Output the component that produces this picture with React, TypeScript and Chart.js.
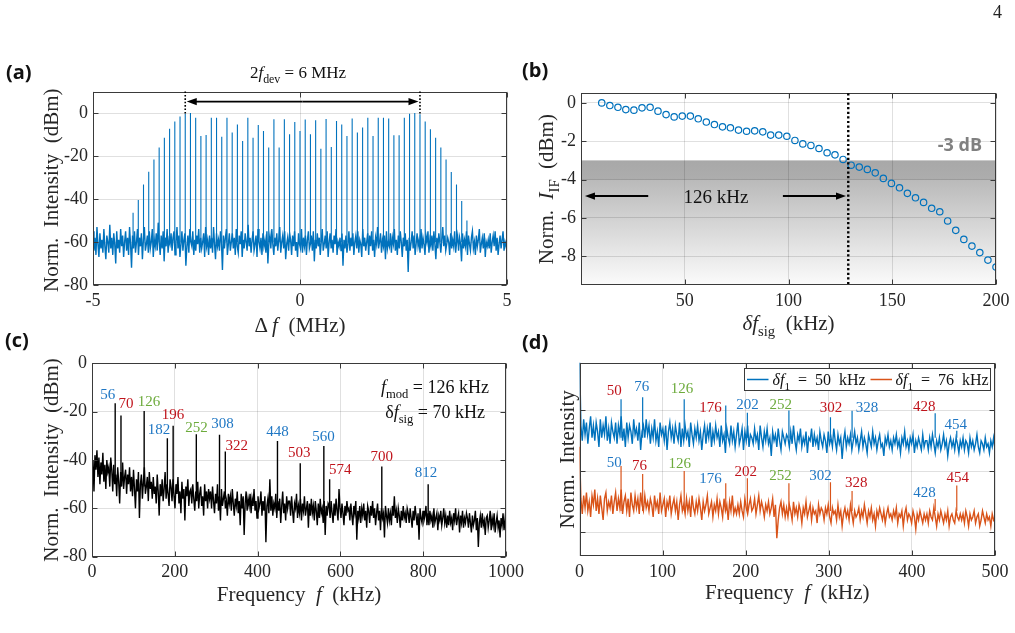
import React, { useEffect, useRef } from 'react';
import { Chart, registerables } from 'chart.js';

Chart.register(...registerables);

const SERIF = '"Liberation Serif", "Times New Roman", serif';
const SANS = '"Open Sans", "Noto Sans", "DejaVu Sans", sans-serif';
const BLUE = '#0072BD';
const ORANGE = '#D95319';
const LBL_BLUE = '#1f77c4';
const LBL_RED = '#c0141c';
const LBL_GREEN = '#6dab3c';
const AXIS = '#3a3a3a';
const GRID = 'rgba(0,0,0,0.12)';
const TICK_TEXT = '#262626';
const NOISE_WIDTH = 1.4;

// ---------------- (a) comb spectrum ----------------
const A_F_RANGE_MHZ = [-5, 5];
const A_X_TICKS = [-5, 0, 5];
const A_Y_TICKS = [-80, -60, -40, -20, 0];
const A_COMB_MHZ = [-4.032, -3.906, -3.78, -3.654, -3.528, -3.402, -3.276, -3.15, -3.024, -2.898, -2.772, -2.646, -2.52, -2.394, -2.268, -2.142, -2.016, -1.89, -1.764, -1.638, -1.512, -1.386, -1.26, -1.134, -1.008, -0.882, -0.756, -0.63, -0.504, -0.378, -0.252, -0.126, 0, 0.126, 0.252, 0.378, 0.504, 0.63, 0.756, 0.882, 1.008, 1.134, 1.26, 1.386, 1.512, 1.638, 1.764, 1.89, 2.016, 2.142, 2.268, 2.394, 2.52, 2.646, 2.772, 2.898, 3.024, 3.15, 3.276, 3.402, 3.528, 3.654, 3.78, 3.906, 4.032];
const A_COMB_DBM = [-46.4, -40.5, -33.2, -27.3, -21.6, -16.1, -11.5, -7.3, -4.0, -1.6, -0.3, 0, -2.2, -10.7, -10.2, -2.2, -2.2, -11, -2.2, -9.1, -5.3, -13, -2.2, -11.5, -5.6, -8.4, -16.1, -2.9, -16.1, -2.9, -9.9, -4.2, -8.4, -3, -9.9, -3.4, -16.6, -2.8, -15.8, -3.7, -5.3, -10.7, -2.5, -9.1, -6.8, -2.2, -10.7, -2.2, -2.2, -2.5, -10.4, -10.4, -2.2, -0.3, 0, -0.6, -4, -7.6, -11.5, -16.1, -21.6, -27.4, -33.2, -40.9, -50];
const A_COMB_FLOOR_DBM = -60;
const A_SPAN_EDGES_MHZ = [-2.772, 2.898];
const A_NOISE_DBM = [
  -55, -64, -58, -66, -53, -61, -67, -56, -63, -59, -65, -54, -62, -68, -57, -60, -65, -52, -63, -58,
  -66, -56, -61, -70, -55, -63, -59, -65, -54, -62, -57, -67, -60, -55, -64, -58, -66, -53, -61, -72,
  -57, -63, -55, -65, -60, -54, -66, -58, -62, -56, -68, -59, -53, -64, -61, -57, -65, -55, -63, -60,
  -54, -67, -59, -62, -56, -64, -51, -60, -66, -57, -63, -55, -69, -58, -62, -54, -65, -59, -61, -56,
  -64, -58, -55, -66, -60, -53, -63, -57, -67, -61, -55, -64, -59, -56, -71, -62, -57, -65, -54, -60,
  -62, -55, -66, -59, -64, -57, -61, -54, -65, -58, -63, -60, -56, -67, -53, -62, -59, -66, -57, -63,
  -58, -65, -53, -61, -68, -56, -62, -59, -64, -55, -60, -73, -57, -63, -58, -54, -66, -61, -56, -64,
  -60, -56, -63, -58, -66, -54, -62, -65, -57, -61, -55, -67, -59, -63, -56, -60, -64, -52, -62, -58,
  -65, -59, -55, -64, -61, -57, -67, -54, -60, -63, -58, -66, -56, -62, -59, -65, -55, -70, -60, -57,
  -63, -54, -61, -66, -58, -62, -56, -64, -59, -53, -65, -60, -57, -63, -55, -68, -61, -58, -64, -56,
  -59, -66, -57, -62, -55, -64, -60, -67, -56, -61, -63, -54, -65, -58, -62, -57, -66, -59, -55, -63,
  -61, -57, -64, -55, -69, -59, -63, -56, -62, -58, -66, -60, -54, -64, -61, -57, -63, -55, -67, -60,
  -56, -63, -59, -65, -57, -61, -54, -66, -60, -62, -58, -64, -56, -71, -59, -63, -57, -65, -61, -55,
  -64, -58, -62, -56, -66, -60, -57, -63, -55, -65, -59, -61, -67, -54, -62, -58, -64, -60, -56, -66,
  -57, -62, -55, -64, -59, -67, -58, -61, -53, -63, -60, -56, -65, -59, -62, -57, -68, -55, -63, -60,
  -62, -56, -65, -58, -61, -54, -64, -59, -66, -57, -63, -55, -60, -67, -58, -62, -56, -64, -59, -74,
  -58, -64, -60, -55, -63, -57, -66, -61, -56, -62, -59, -65, -54, -63, -58, -61, -66, -57, -60, -55,
  -65, -59, -62, -57, -64, -55, -61, -68, -58, -63, -56, -60, -65, -59, -53, -62, -57, -64, -61, -58,
  -60, -66, -56, -63, -59, -62, -55, -65, -60, -57, -64, -58, -61, -69, -56, -63, -59, -62, -55, -66,
  -57, -61, -64, -58, -55, -63, -60, -66, -57, -62, -59, -54, -65, -61, -58, -63, -56, -67, -60, -62,
  -59, -63, -56, -65, -60, -57, -62, -55, -64, -58, -66, -61, -57, -63, -59, -55, -64, -60, -62, -58,
];

// ---------------- (b) IF response ----------------
const B_X_TICKS = [50, 100, 150, 200];
const B_Y_TICKS = [0, -2, -4, -6, -8];
const B_DFSIG_KHZ = [10.0, 13.9, 17.8, 21.6, 25.5, 29.4, 33.3, 37.1, 41.0, 44.9, 48.8, 52.7, 56.5, 60.4, 64.3, 68.2, 72.0, 75.9, 79.8, 83.7, 87.6, 91.4, 95.3, 99.2, 103.1, 106.9, 110.8, 114.7, 118.6, 122.4, 126.3, 130.2, 134.1, 138.0, 141.8, 145.7, 149.6, 153.5, 157.3, 161.2, 165.1, 169.0, 172.9, 176.7, 180.6, 184.5, 188.4, 192.2, 196.1, 200.0];
const B_IIF_DB = [0, -0.14, -0.23, -0.35, -0.38, -0.26, -0.23, -0.43, -0.61, -0.73, -0.69, -0.69, -0.83, -1.0, -1.13, -1.25, -1.30, -1.42, -1.48, -1.46, -1.51, -1.68, -1.68, -1.74, -1.96, -2.14, -2.22, -2.38, -2.60, -2.71, -2.95, -3.25, -3.35, -3.47, -3.65, -3.94, -4.2, -4.43, -4.72, -4.95, -5.19, -5.5, -5.68, -6.16, -6.65, -7.12, -7.47, -7.81, -8.2, -8.56];
const B_THRESHOLD_DB = -3;
const B_CUTOFF_KHZ = 128.8;
const B_ARROW_DB = -4.86;
const B_ARROW_LEFT_KHZ = [32.4, 1.9];
const B_ARROW_RIGHT_KHZ = [97.3, 127.7];

// ---------------- (c) single-tone IF spectrum ----------------
const C_X_TICKS = [0, 200, 400, 600, 800, 1000];
const C_Y_TICKS = [-80, -60, -40, -20, 0];
const C_NOISE_DBM = [
  -48, -40, -53, -38, -44, -36, -47, -39, -50, -41, -46, -37, -49, -42, -52, -40, -45, -43, -51, -39,
  -44, -53, -42, -50, -46, -55, -43, -49, -58, -45, -51, -41, -52, -47, -44, -54, -46, -50, -43, -53,
  -47, -55, -44, -52, -60, -48, -53, -45, -64, -50, -46, -56, -49, -43, -54, -51, -47, -57, -45, -52,
  -49, -56, -47, -54, -51, -58, -46, -53, -63, -50, -55, -48, -57, -52, -45, -56, -50, -54, -59, -48,
  -51, -57, -48, -55, -60, -50, -54, -47, -58, -53, -62, -49, -56, -52, -65, -51, -55, -48, -59, -53,
  -52, -58, -50, -56, -61, -53, -57, -49, -60, -54, -51, -59, -55, -63, -50, -57, -53, -60, -52, -56,
  -53, -60, -51, -57, -62, -54, -58, -50, -61, -55, -65, -52, -59, -56, -53, -60, -57, -63, -54, -58,
  -55, -61, -52, -58, -63, -56, -59, -53, -62, -57, -67, -54, -60, -55, -71, -58, -53, -61, -56, -59,
  -54, -62, -56, -59, -52, -61, -57, -64, -55, -60, -58, -53, -63, -57, -61, -55, -74, -59, -56, -62,
  -48, -61, -55, -63, -58, -60, -54, -64, -57, -61, -56, -66, -59, -53, -62, -58, -65, -55, -60, -57,
  -57, -63, -55, -61, -66, -58, -60, -54, -64, -59, -62, -56, -65, -58, -61, -55, -63, -60, -57, -68,
  -58, -63, -56, -62, -59, -65, -57, -61, -67, -58, -64, -56, -62, -60, -66, -57, -71, -59, -63, -58,
  -59, -64, -57, -62, -66, -58, -63, -56, -61, -65, -52, -60, -64, -58, -62, -67, -59, -63, -57, -61,
  -60, -65, -58, -63, -67, -59, -62, -57, -73, -61, -64, -59, -66, -60, -63, -58, -65, -61, -68, -59,
  -61, -66, -59, -63, -57, -64, -60, -67, -62, -58, -65, -61, -69, -60, -64, -62, -72, -59, -63, -66,
  -60, -65, -62, -67, -59, -63, -55, -64, -61, -66, -60, -63, -68, -61, -65, -59, -64, -62, -66, -60,
  -62, -66, -60, -64, -68, -61, -65, -59, -63, -67, -62, -73, -60, -64, -66, -61, -65, -63, -59, -67,
  -62, -67, -61, -65, -63, -68, -60, -66, -64, -62, -69, -63, -65, -61, -67, -64, -60, -66, -63, -68,
  -63, -67, -61, -66, -64, -69, -62, -65, -60, -67, -64, -62, -70, -63, -66, -61, -68, -64, -66, -62,
  -64, -68, -62, -66, -70, -63, -67, -65, -61, -69, -64, -76, -66, -63, -68, -62, -67, -65, -71, -64,
  -63, -68, -65, -61, -69, -64, -67, -62, -70, -66, -63, -68, -65, -72, -64, -67, -62, -69, -65, -60,
];
const C_PEAK_KHZ = [56, 70, 126, 182, 196, 252, 308, 322, 448, 503, 560, 574, 700, 812];
const C_PEAK_DBM = [-16.5, -21.6, -19.7, -31, -25.8, -29.3, -29.6, -36.5, -32.1, -41.3, -34.2, -48, -42.7, -50];
const C_PEAK_BASE_DBM = [-49, -49, -51, -53, -53, -55, -56, -56, -58, -59, -60, -60, -62, -63];
const C_LABEL_KHZ = [37.9, 82.1, 137.7, 161.8, 195.7, 252.4, 315.2, 349.8, 448.1, 500.7, 559.2, 599.5, 700, 806.8];
const C_LABEL_DBM = [-12.8, -16.5, -15.5, -27.2, -21.1, -26.2, -24.8, -33.8, -28, -36.6, -30.1, -43.8, -38.2, -45.1];
const C_LABEL_COLOR = [LBL_BLUE, LBL_RED, LBL_GREEN, LBL_BLUE, LBL_RED, LBL_GREEN, LBL_BLUE, LBL_RED, LBL_BLUE, LBL_RED, LBL_BLUE, LBL_RED, LBL_RED, LBL_BLUE];

// ---------------- (d) two-tone IF spectra (offset traces) ----------------
const D_X_TICKS = [0, 100, 200, 300, 400, 500];
const D_Y_TICKS = [0, 20, 40];
const D_NOISE_BLUE = [
  60, 35, 30, 37, 32, 36, 29, 34, 38, 31, 35, 30, 36, 33, 28, 37, 31, 35, 32, 38, 30, 34, 29, 36, 33,
  31, 36, 29, 35, 32, 38, 30, 34, 28, 36, 31, 35, 33, 29, 37, 32, 34, 30, 36, 27, 33, 35, 31, 37, 32,
  35, 29, 34, 31, 37, 30, 33, 28, 36, 32, 34, 30, 35, 27, 33, 36, 31, 34, 29, 35, 32, 30, 36, 28, 34,
  30, 35, 31, 33, 28, 36, 32, 29, 34, 31, 35, 30, 33, 27, 32, 35, 29, 34, 31, 36, 28, 33, 30, 35, 31,
  33, 28, 35, 30, 32, 26, 34, 31, 29, 35, 30, 33, 28, 32, 36, 29, 31, 34, 27, 33, 30, 35, 28, 32, 31,
  29, 34, 30, 32, 27, 35, 31, 28, 33, 30, 34, 29, 31, 25, 33, 30, 32, 28, 34, 30, 27, 33, 31, 29, 32,
  31, 28, 33, 29, 35, 30, 27, 32, 30, 34, 28, 31, 29, 33, 26, 31, 30, 34, 28, 32, 29, 31, 27, 33, 30,
  28, 32, 30, 26, 33, 29, 31, 28, 34, 30, 27, 32, 29, 31, 24, 30, 33, 28, 31, 29, 32, 27, 30, 33, 29,
  31, 27, 30, 33, 28, 31, 29, 26, 32, 30, 28, 33, 29, 31, 27, 30, 32, 28, 29, 25, 31, 29, 32, 28, 30,
  27, 31, 29, 32, 28, 30, 26, 31, 29, 33, 28, 30, 27, 31, 29, 32, 26, 30, 28, 31, 29, 27, 32, 28, 30,
  30, 27, 31, 28, 32, 29, 26, 30, 28, 31, 27, 29, 32, 28, 30, 25, 29, 31, 28, 30, 27, 31, 29, 26, 30,
  28, 31, 27, 30, 29, 26, 31, 28, 30, 27, 29, 32, 28, 26, 30, 29, 27, 31, 28, 29, 26, 30, 28, 31, 27,
];
const D_NOISE_ORANGE = [
  28, 11, 6, 12, 8, 13, 7, 10, 5, 12, 9, 14, 7, 11, 6, 12, 8, 4, 11, 13, 7, 10, 8, 12, 6,
  10, 13, 7, 11, 8, 14, 6, 10, 12, 7, 11, 5, 13, 9, 7, 12, 8, 11, 6, 13, 9, 7, 12, 8, 10,
  7, 11, 9, 5, 12, 8, 10, 6, 13, 7, 9, 11, 5, 10, 8, 12, 6, 9, 11, 7, 10, 4, 9, 12, 7,
  9, 6, 11, 7, 10, 5, 12, 8, 6, 10, 7, 11, 8, 4, 10, 7, 9, 12, 6, 8, 10, 5, 9, 7, 11,
  6, 10, 8, 5, 11, 7, 9, 4, 10, 7, 12, 6, 8, 6, 9, 6, 10, 7, 5, 11, 8, 6, 9, 11, 7,
  8, 11, 6, 9, 12, 7, 10, 8, 5, 9, 7, 10, 6, 8, 11, 5, 9, -2, 4, 8, 10, 6, 9, 5, 8,
  5, 9, 7, 4, 10, 6, 8, 5, 9, 7, 3, 8, 6, 10, 5, 7, 9, 4, 8, 6, 7, 3, 9, 6, 8,
  7, 4, 8, 6, 9, 5, 3, 8, 6, 7, 4, 9, 5, 7, 2, 6, 8, 5, 7, 4, 9, 6, 3, 7, 5,
  6, 8, 4, 7, 5, 9, 6, 3, 7, 5, 8, 4, 6, 2, 7, 5, 8, 6, 4, 7, 3, 6, 8, 5, 6,
  4, 7, 5, 8, 3, 6, 5, 7, 2, 6, 8, 4, 6, 5, 3, 7, 5, 1, 6, 4, 7, 5, 3, 6, 4,
  6, 3, 7, 5, 4, 8, 5, 2, 6, 4, 7, 5, 3, 6, 4, 7, 2, 5, 6, 4, 3, 7, 5, 4, 6,
  4, 6, 3, 7, 5, 2, 6, 4, 5, 7, 3, 5, 6, 2, 4, 7, 5, 3, 6, 4, 5, 2, 6, 4, 5,
];
const D_F_RANGE_KHZ = [0, 500];
const D_PEAK_KHZ = [50, 76, 126, 176, 202, 252, 302, 328, 428, 454];
const D_BLUE_PEAK = [43.6, 44.3, 43.6, 41.6, 39.2, 39.9, 37.7, 39.8, 39.0, 33.3];
const D_ORANGE_PEAK = [21.7, 19.1, 20.1, 16.1, 17.7, 16.1, 16.4, 13.5, 10.9, 15.3];
const D_BLUE_FLOOR = 31;
const D_ORANGE_FLOOR = 7;
const D_BLUE_LABEL_KHZ = [41.9, 74.8, 123.3, 157.6, 202.2, 242.2, 302.6, 346, 414.9, 452.7];
const D_BLUE_LABEL_Y = [46.7, 48, 47.2, 41, 42.1, 42.1, 41, 41.2, 41.4, 35.5];
const D_BLUE_LABEL_COLOR = [LBL_RED, LBL_BLUE, LBL_GREEN, LBL_RED, LBL_BLUE, LBL_GREEN, LBL_RED, LBL_BLUE, LBL_RED, LBL_BLUE];
const D_ORANGE_LABEL_KHZ = [41.9, 72.2, 120.7, 157.6, 200.1, 241.9, 290, 333, 415.2, 455.2];
const D_ORANGE_LABEL_Y = [22.9, 22.1, 22.6, 17.7, 20.1, 18.8, 18.8, 16.4, 13.3, 18];
const D_ORANGE_LABEL_COLOR = [LBL_BLUE, LBL_RED, LBL_GREEN, LBL_BLUE, LBL_RED, LBL_GREEN, LBL_BLUE, LBL_RED, LBL_BLUE, LBL_RED];

// ---------------- drawing helpers ----------------
type Seg = { t: string; i?: boolean; sub?: boolean; b?: boolean };

function rich(
  ctx: CanvasRenderingContext2D,
  segs: Seg[],
  x: number,
  y: number,
  size: number,
  color: string,
  align: 'left' | 'center' | 'right' = 'center',
  rotate = false,
  family = SERIF,
) {
  const fontOf = (s: Seg) => `${s.i ? 'italic ' : ''}${s.b ? 'bold ' : ''}${s.sub ? size * 0.7 : size}px ${family}`;
  ctx.save();
  ctx.translate(x, y);
  if (rotate) ctx.rotate(-Math.PI / 2);
  let total = 0;
  const widths = segs.map((s) => {
    ctx.font = fontOf(s);
    const w = ctx.measureText(s.t).width;
    total += w;
    return w;
  });
  let cx = align === 'left' ? 0 : align === 'center' ? -total / 2 : -total;
  ctx.fillStyle = color;
  ctx.textBaseline = 'alphabetic';
  ctx.textAlign = 'left';
  segs.forEach((s, k) => {
    ctx.font = fontOf(s);
    ctx.fillText(s.t, cx, size * 0.34 + (s.sub ? size * 0.3 : 0));
    cx += widths[k];
  });
  ctx.restore();
}

function arrow(ctx: CanvasRenderingContext2D, x1: number, y1: number, x2: number, y2: number, width = 1.8, head = 10, half = 3.6) {
  const ang = Math.atan2(y2 - y1, x2 - x1);
  ctx.save();
  ctx.strokeStyle = '#000';
  ctx.fillStyle = '#000';
  ctx.lineWidth = width;
  ctx.setLineDash([]);
  ctx.beginPath();
  ctx.moveTo(x1, y1);
  ctx.lineTo(x2 - Math.cos(ang) * head * 0.6, y2 - Math.sin(ang) * head * 0.6);
  ctx.stroke();
  ctx.beginPath();
  ctx.moveTo(x2, y2);
  ctx.lineTo(x2 - Math.cos(ang) * head - Math.sin(ang) * half, y2 - Math.sin(ang) * head + Math.cos(ang) * half);
  ctx.lineTo(x2 - Math.cos(ang) * head + Math.sin(ang) * half, y2 - Math.sin(ang) * head - Math.cos(ang) * half);
  ctx.closePath();
  ctx.fill();
  ctx.restore();
}

// axes box with inward tick marks on all four sides
function frame(chart: any, tickLen = 5) {
  const { ctx, chartArea: a, scales } = chart;
  const xs = scales.x;
  const ys = scales.y;
  const L = Math.round(a.left) + 0.5;
  const R = Math.round(a.right) - 0.5;
  const T = Math.round(a.top) + 0.5;
  const B = Math.round(a.bottom) - 0.5;
  ctx.save();
  ctx.strokeStyle = AXIS;
  ctx.lineWidth = 1;
  ctx.setLineDash([]);
  ctx.strokeRect(L, T, R - L, B - T);
  ctx.beginPath();
  xs.ticks.forEach((t: any) => {
    const px = Math.round(xs.getPixelForValue(t.value)) + 0.5;
    ctx.moveTo(px, B);
    ctx.lineTo(px, B - tickLen);
    ctx.moveTo(px, T);
    ctx.lineTo(px, T + tickLen);
  });
  ys.ticks.forEach((t: any) => {
    const py = Math.round(ys.getPixelForValue(t.value)) + 0.5;
    ctx.moveTo(L, py);
    ctx.lineTo(L + tickLen, py);
    ctx.moveTo(R, py);
    ctx.lineTo(R - tickLen, py);
  });
  ctx.stroke();
  ctx.restore();
}

function scalesFor(p: {
  xMin: number; xMax: number; yMin: number; yMax: number;
  xTicks: number[]; yTicks: number[]; yWidth: number; xHeight: number; showY?: boolean;
}) {
  const font = { family: SERIF, size: 18 };
  return {
    x: {
      type: 'linear', min: p.xMin, max: p.xMax,
      afterBuildTicks: (s: any) => { s.ticks = p.xTicks.map((v) => ({ value: v })); },
      afterFit: (s: any) => { s.height = p.xHeight; },
      grid: { color: GRID, drawTicks: false, lineWidth: 1 },
      border: { display: false },
      ticks: { padding: 5, color: TICK_TEXT, font, maxRotation: 0, autoSkip: false, callback: (v: any) => String(v) },
    },
    y: {
      type: 'linear', min: p.yMin, max: p.yMax,
      afterBuildTicks: (s: any) => { s.ticks = p.yTicks.map((v) => ({ value: v })); },
      afterFit: (s: any) => { s.width = p.yWidth; },
      grid: { color: GRID, drawTicks: false, lineWidth: 1 },
      border: { display: false },
      ticks: { padding: 5, color: TICK_TEXT, font, autoSkip: false, callback: (v: any) => (p.showY === false ? '' : String(v)) },
    },
  };
}

function common(top: number, right: number) {
  return {
    animation: false,
    responsive: false,
    maintainAspectRatio: false,
    events: [],
    layout: { padding: { top, right, left: 0, bottom: 0 } },
    plugins: { legend: { display: false }, tooltip: { enabled: false } },
    elements: { point: { radius: 0 }, line: { tension: 0 } },
  };
}

// samples on an evenly spaced frequency grid
function evenGrid(values: number[], range: number[]) {
  const n = values.length;
  return values.map((v, i) => ({ x: range[0] + (i * (range[1] - range[0])) / (n - 1), y: v }));
}

// vertical spectral lines rising from the floor to each peak
function stems(freqs: number[], peaks: number[], base: number | number[]) {
  return freqs.flatMap((f, i) => [
    { x: f, y: Array.isArray(base) ? base[i] : base },
    { x: f, y: peaks[i] },
    { x: f, y: null },
  ]);
}

// ---------------- panels ----------------
function makeA(canvas: HTMLCanvasElement) {
  return new Chart(canvas as any, {
    type: 'line',
    data: {
      datasets: [
        { data: stems(A_COMB_MHZ, A_COMB_DBM, A_COMB_FLOOR_DBM), borderColor: BLUE, borderWidth: 1.1, pointRadius: 0 },
        { data: evenGrid(A_NOISE_DBM, A_F_RANGE_MHZ), borderColor: BLUE, borderWidth: NOISE_WIDTH, pointRadius: 0 },
      ],
    } as any,
    options: {
      ...common(91.5, 13),
      scales: scalesFor({ xMin: -5, xMax: 5, yMin: -80, yMax: 10, xTicks: A_X_TICKS, yTicks: A_Y_TICKS, yWidth: 93, xHeight: 55 }),
    } as any,
    plugins: [{
      id: 'panelA',
      afterDraw(chart: any) {
        const { ctx, chartArea: a, scales: { x, y } } = chart;
        frame(chart);
        ctx.save();
        ctx.strokeStyle = '#000';
        ctx.lineWidth = 1.6;
        ctx.setLineDash([1.6, 1.8]);
        A_SPAN_EDGES_MHZ.forEach((f) => {
          const px = x.getPixelForValue(f);
          ctx.beginPath();
          ctx.moveTo(px, a.top);
          ctx.lineTo(px, y.getPixelForValue(-1));
          ctx.stroke();
        });
        ctx.restore();
        const ay = y.getPixelForValue(5.3);
        const x0 = x.getPixelForValue(A_SPAN_EDGES_MHZ[0]) + 1.5;
        const x1 = x.getPixelForValue(A_SPAN_EDGES_MHZ[1]) - 1.5;
        const mid = (x0 + x1) / 2;
        arrow(ctx, mid, ay, x0, ay);
        arrow(ctx, mid, ay, x1, ay);
        rich(ctx, [{ t: '2' }, { t: 'f', i: true }, { t: 'dev', sub: true }, { t: ' = 6 MHz' }], (a.left + a.right) / 2 - 2, a.top - 19, 17, '#111');
        rich(ctx, [{ t: 'Δ\u2009' }, { t: 'f', i: true }, { t: '  (MHz)' }], (a.left + a.right) / 2, a.bottom + 40, 21, '#262626');
        rich(ctx, [{ t: 'Norm.  Intensity  (dBm)' }], a.left - 42, (a.top + a.bottom) / 2 + 2, 21, '#262626', 'center', true);
      },
    }],
  });
}

function makeB(canvas: HTMLCanvasElement) {
  return new Chart(canvas as any, {
    type: 'line',
    data: {
      datasets: [{
        data: B_DFSIG_KHZ.map((f, i) => ({ x: f, y: B_IIF_DB[i] })),
        showLine: false,
        pointRadius: 3.2,
        pointBorderWidth: 1.2,
        pointBorderColor: BLUE,
        pointBackgroundColor: 'rgba(0,0,0,0)',
        pointStyle: 'circle',
      }],
    } as any,
    options: {
      ...common(93.3, 19),
      scales: scalesFor({ xMin: 0, xMax: 200, yMin: -9.5, yMax: 0.5, xTicks: B_X_TICKS, yTicks: B_Y_TICKS, yWidth: 61, xHeight: 55 }),
    } as any,
    plugins: [{
      id: 'panelB',
      beforeDraw(chart: any) {
        const { ctx, chartArea: a, scales: { y } } = chart;
        const top = y.getPixelForValue(B_THRESHOLD_DB);
        const g = ctx.createLinearGradient(0, top, 0, a.bottom);
        g.addColorStop(0, '#a8a8a8');
        g.addColorStop(0.15, '#adadad');
        g.addColorStop(0.16, '#bababa');
        g.addColorStop(1, '#fbfbfb');
        ctx.save();
        ctx.fillStyle = g;
        ctx.fillRect(a.left, top, a.right - a.left, a.bottom - top);
        ctx.restore();
      },
      afterDraw(chart: any) {
        const { ctx, chartArea: a, scales: { x, y } } = chart;
        frame(chart);
        const cx = x.getPixelForValue(B_CUTOFF_KHZ);
        ctx.save();
        ctx.strokeStyle = '#000';
        ctx.lineWidth = 2.4;
        ctx.setLineDash([2.2, 2.4]);
        ctx.beginPath();
        ctx.moveTo(cx, a.top);
        ctx.lineTo(cx, a.bottom);
        ctx.stroke();
        ctx.restore();
        const ay = y.getPixelForValue(B_ARROW_DB);
        arrow(ctx, x.getPixelForValue(B_ARROW_LEFT_KHZ[0]), ay, x.getPixelForValue(B_ARROW_LEFT_KHZ[1]), ay, 2);
        arrow(ctx, x.getPixelForValue(B_ARROW_RIGHT_KHZ[0]), ay, x.getPixelForValue(B_ARROW_RIGHT_KHZ[1]), ay, 2);
        rich(ctx, [{ t: '126 kHz' }], x.getPixelForValue(65), ay, 19, '#111');
        rich(ctx, [{ t: '-3 dB', b: true }], a.right - 14, y.getPixelForValue(-2.2), 18, '#808080', 'right', false, SANS);
        rich(ctx, [{ t: 'δ', i: true }, { t: 'f', i: true }, { t: 'sig', sub: true }, { t: '  (kHz)' }], (a.left + a.right) / 2, a.bottom + 38, 21, '#262626');
        rich(ctx, [{ t: 'Norm.  ' }, { t: 'I', i: true }, { t: 'IF', sub: true }, { t: '  (dBm)' }], a.left - 35, (a.top + a.bottom) / 2, 21, '#262626', 'center', true);
      },
    }],
  });
}

function makeC(canvas: HTMLCanvasElement) {
  return new Chart(canvas as any, {
    type: 'line',
    data: {
      datasets: [
        { data: stems(C_PEAK_KHZ, C_PEAK_DBM, C_PEAK_BASE_DBM), borderColor: '#000', borderWidth: 1.4, pointRadius: 0 },
        { data: evenGrid(C_NOISE_DBM, [0, 1000]), borderColor: '#000', borderWidth: NOISE_WIDTH, pointRadius: 0 },
      ],
    } as any,
    options: {
      ...common(43.3, 34),
      scales: scalesFor({ xMin: 0, xMax: 1000, yMin: -80, yMax: 0, xTicks: C_X_TICKS, yTicks: C_Y_TICKS, yWidth: 92, xHeight: 76.3 }),
    } as any,
    plugins: [{
      id: 'panelC',
      afterDraw(chart: any) {
        const { ctx, chartArea: a, scales: { x, y } } = chart;
        frame(chart);
        C_PEAK_KHZ.forEach((f, i) => {
          rich(ctx, [{ t: String(f) }], x.getPixelForValue(C_LABEL_KHZ[i]), y.getPixelForValue(C_LABEL_DBM[i]), 15, C_LABEL_COLOR[i]);
        });
        rich(ctx, [{ t: 'f', i: true }, { t: 'mod', sub: true }, { t: ' = 126 kHz' }], a.right - 17, a.top + 23.4, 18, '#111', 'right');
        rich(ctx, [{ t: 'δ' }, { t: 'f', i: true }, { t: 'sig', sub: true }, { t: ' = 70 kHz' }], a.right - 21, a.top + 48.4, 18, '#111', 'right');
        rich(ctx, [{ t: 'Frequency  ' }, { t: 'f', i: true }, { t: '  (kHz)' }], (a.left + a.right) / 2, a.bottom + 37.5, 21, '#262626');
        rich(ctx, [{ t: 'Norm.  Intensity  (dBm)' }], a.left - 41, (a.top + a.bottom) / 2, 21, '#262626', 'center', true);
      },
    }],
  });
}

function makeD(canvas: HTMLCanvasElement) {
  return new Chart(canvas as any, {
    type: 'line',
    data: {
      datasets: [
        { data: stems(D_PEAK_KHZ, D_BLUE_PEAK, D_BLUE_FLOOR), borderColor: BLUE, borderWidth: 1.2, pointRadius: 0 },
        { data: evenGrid(D_NOISE_BLUE, D_F_RANGE_KHZ), borderColor: BLUE, borderWidth: NOISE_WIDTH, pointRadius: 0 },
        { data: stems(D_PEAK_KHZ, D_ORANGE_PEAK, D_ORANGE_FLOOR), borderColor: ORANGE, borderWidth: 1.2, pointRadius: 0 },
        { data: evenGrid(D_NOISE_ORANGE, D_F_RANGE_KHZ), borderColor: ORANGE, borderWidth: NOISE_WIDTH, pointRadius: 0 },
      ],
    } as any,
    options: {
      ...common(42.7, 20),
      scales: scalesFor({ xMin: 0, xMax: 500, yMin: -7.8, yMax: 55.6, xTicks: D_X_TICKS, yTicks: D_Y_TICKS, yWidth: 59.5, xHeight: 77, showY: false }),
    } as any,
    plugins: [{
      id: 'panelD',
      afterDraw(chart: any) {
        const { ctx, chartArea: a, scales: { x, y } } = chart;
        frame(chart);
        D_PEAK_KHZ.forEach((f, i) => {
          rich(ctx, [{ t: String(f) }], x.getPixelForValue(D_BLUE_LABEL_KHZ[i]), y.getPixelForValue(D_BLUE_LABEL_Y[i]), 15, D_BLUE_LABEL_COLOR[i]);
          rich(ctx, [{ t: String(f) }], x.getPixelForValue(D_ORANGE_LABEL_KHZ[i]), y.getPixelForValue(D_ORANGE_LABEL_Y[i]), 15, D_ORANGE_LABEL_COLOR[i]);
        });
        // legend box
        const bx = Math.round(a.right - 251) + 0.5;
        const by = Math.round(a.top + 5) + 0.5;
        const bw = 246;
        const bh = 22;
        ctx.save();
        ctx.fillStyle = '#fff';
        ctx.fillRect(bx, by, bw, bh);
        ctx.strokeStyle = AXIS;
        ctx.lineWidth = 1;
        ctx.strokeRect(bx, by, bw, bh);
        const ly = by + bh / 2;
        ctx.lineWidth = 1.5;
        ctx.strokeStyle = BLUE;
        ctx.beginPath(); ctx.moveTo(bx + 2.5, ly); ctx.lineTo(bx + 24, ly); ctx.stroke();
        ctx.strokeStyle = ORANGE;
        ctx.beginPath(); ctx.moveTo(bx + 126, ly); ctx.lineTo(bx + 147.5, ly); ctx.stroke();
        ctx.restore();
        rich(ctx, [{ t: 'δ', i: true }, { t: 'f', i: true }, { t: '1', sub: true }, { t: '  =  50  kHz' }], bx + 28, ly, 16, '#111', 'left');
        rich(ctx, [{ t: 'δ', i: true }, { t: 'f', i: true }, { t: '1', sub: true }, { t: '  =  76  kHz' }], bx + 151, ly, 16, '#111', 'left');
        rich(ctx, [{ t: 'Frequency  ' }, { t: 'f', i: true }, { t: '  (kHz)' }], (a.left + a.right) / 2, a.bottom + 35.7, 21, '#262626');
        rich(ctx, [{ t: 'Norm.  Intensity' }], a.left - 13, (a.top + a.bottom) / 2, 21, '#262626', 'center', true);
      },
    }],
  });
}

function Panel(props: { left: number; top: number; width: number; height: number; make: (c: HTMLCanvasElement) => Chart }) {
  const ref = useRef<HTMLCanvasElement>(null);
  useEffect(() => {
    const chart = props.make(ref.current as HTMLCanvasElement);
    return () => chart.destroy();
  }, []);
  return (
    <canvas
      ref={ref}
      width={props.width}
      height={props.height}
      style={{ position: 'absolute', left: props.left, top: props.top, width: props.width, height: props.height }}
    />
  );
}

const tag: React.CSSProperties = {
  position: 'absolute',
  font: `bold 20px ${SANS}`,
  lineHeight: '24px',
  color: '#111',
};

export default function App() {
  return (
    <div style={{ position: 'fixed', left: 0, top: 0, width: 1015, height: 633, background: '#fff', overflow: 'hidden' }}>
      <Panel left={0} top={0} width={520} height={340} make={makeA} />
      <Panel left={520} top={0} width={495} height={340} make={makeB} />
      <Panel left={0} top={320} width={540} height={313} make={makeC} />
      <Panel left={520} top={320} width={495} height={313} make={makeD} />
      <div style={{ ...tag, left: 6, top: 60 }}>(a)</div>
      <div style={{ ...tag, left: 522, top: 58 }}>(b)</div>
      <div style={{ ...tag, left: 5, top: 328 }}>(c)</div>
      <div style={{ ...tag, left: 522, top: 330 }}>(d)</div>
      <div style={{ position: 'absolute', left: 993, top: 1, font: `18px ${SERIF}`, lineHeight: '22px', color: '#222' }}>4</div>
    </div>
  );
}
